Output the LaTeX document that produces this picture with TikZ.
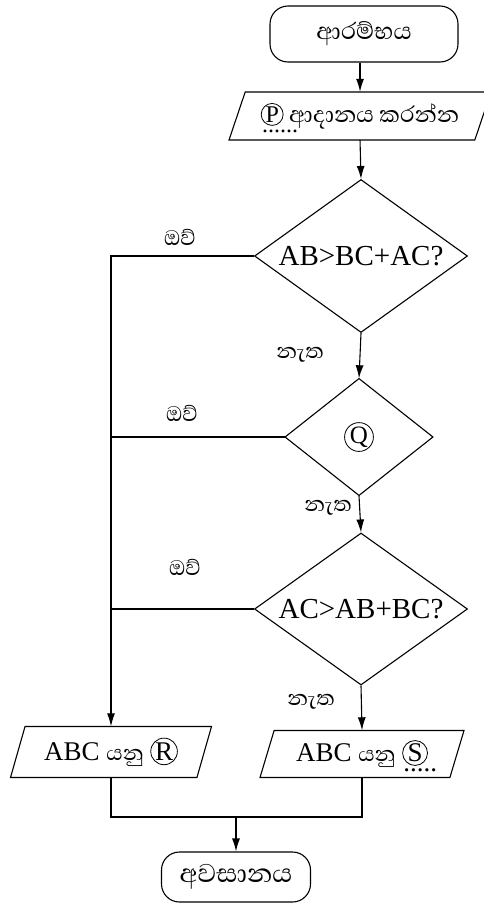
\documentclass[tikz,border=0pt]{standalone}
\usepackage{fontspec}
\setmainfont{Liberation Serif}
\newfontfamily\sinhalafont[Script=Sinhala]{Abhaya Libre}
\usetikzlibrary{shapes.geometric,arrows.meta}

% circled letters, with or without a dotted blank below
\tikzset{ring/.style={shape=circle, draw, minimum width=0pt, minimum height=0pt,
  inner sep=0.5pt, line width=0.8pt, rounded corners=0pt}}
\newcommand{\ltr}[1]{\tikz[baseline=(l.base)]\node[ring](l){\rmfamily #1};}
\newcommand{\ltrblank}[2]{\tikz[baseline=(l.base)]{\node[ring](l){\rmfamily #1};
  \node[overlay, shape=rectangle, minimum width=0pt, minimum height=0pt, anchor=base west, inner sep=0pt]
    at ([xshift=1pt,yshift=-10pt]l.base west) {\rmfamily #2};}}

\tikzset{
  term/.style={draw, rounded corners=18pt, font=\sinhalafont\fontsize{30}{32}\selectfont},
  io/.style={draw, trapezium, trapezium left angle=63, trapezium right angle=117,
    trapezium stretches body, inner sep=0pt, font=\fontsize{27}{30}\selectfont},
  cond/.style={draw, diamond, aspect=1.39, inner sep=0pt, font=\fontsize{29}{30}\selectfont},
  lbl/.style={font=\sinhalafont\fontsize{27}{28}\selectfont, inner sep=0pt},
  arr/.style={-{Latex[length=13pt,width=8pt]}}
}

\begin{document}
\begin{tikzpicture}[x=1pt, y=-1pt, line width=1.1pt]
\useasboundingbox (0,0) rectangle (483,905);
% boxes
\node[term, minimum width=188, minimum height=56] (start) at (364,34) {ආරම්භය};
\node[io, trapezium left angle=58, trapezium right angle=122, minimum width=262, minimum height=48,
  font=\sinhalafont\fontsize{29}{30}\selectfont] (input) at (360,116)
  {{\fontsize{24}{26}\selectfont\ltrblank{P}{......}} ආදානය කරන්න};
\node[cond, minimum width=213, minimum height=153] (c1) at (361,256) {AB>BC+AC?};
\node[cond, minimum width=148, minimum height=117, font=\fontsize{25}{26}\selectfont] (c2) at (359,437) {\ltr{Q}};
\node[cond, minimum width=213, minimum height=152] (c3) at (361,609) {AC>AB+BC?};
\node[io, minimum width=201, minimum height=51] (outR) at (111,752) {ABC {\sinhalafont යනු} \ltr{R}};
\node[io, minimum width=204, minimum height=47] (outS) at (362,754) {ABC {\sinhalafont යනු} \ltrblank{S}{.....}};
\node[term, minimum width=149, minimum height=50, font=\sinhalafont\fontsize{33}{34}\selectfont] (stop) at (236,877) {අවසානය};
% labels
\node[lbl] (yes1) at (180,237) {ඔව්};
\node[lbl] (yes2) at (182,413) {ඔව්};
\node[lbl] (yes3) at (185,567) {ඔව්};
\node[lbl] (no1) at (300,355) {නැත};
\node[lbl] (no2) at (328,508) {නැත};
\node[lbl] (no3) at (311,702) {නැත};
% connectors
\draw[arr] (input.north |- start.south) -- (input.north);
\draw[arr] (input.south) -- (c1.north);
\draw[arr] (c1.south) -- (c2.north);
\draw[arr] (c2.south) -- (c3.north);
\draw[arr] (c3.south) -- (outS.north);
\draw[arr] (c1.west) -| (outR.north);
\draw (c2.west) -- (c2.west -| outR.north);
\draw (c3.west) -- (c3.west -| outR.north);
\coordinate (join) at (236,817);
\draw (outR.south) |- (join) -| (outS.south);
\draw[arr] (join) -- (stop.north);
\end{tikzpicture}
\end{document}
